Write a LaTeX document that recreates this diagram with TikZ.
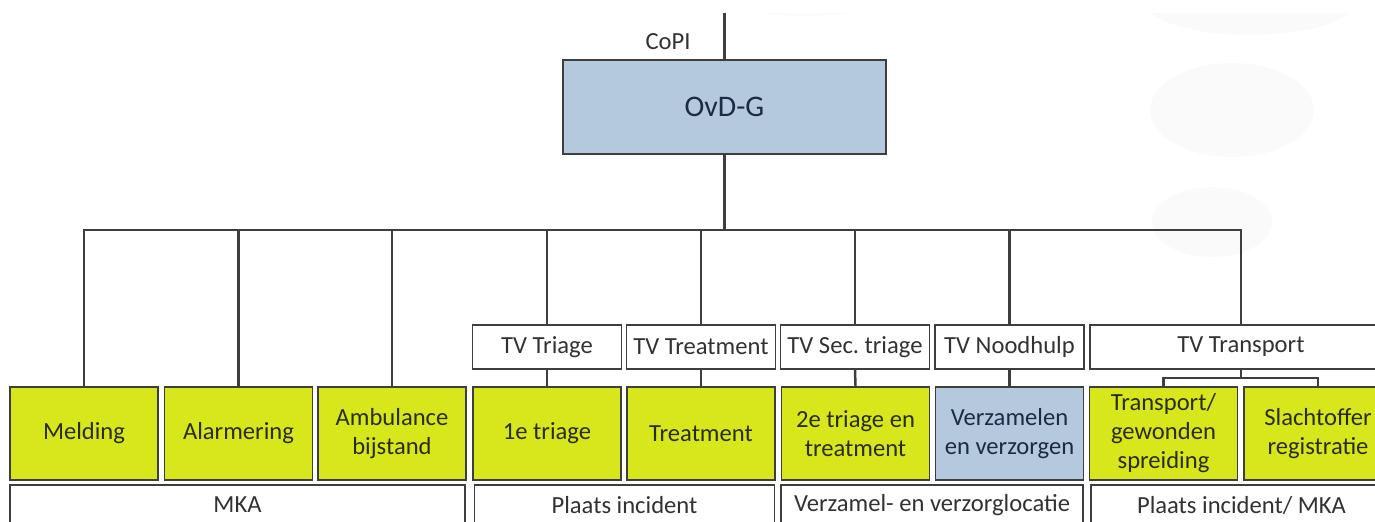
\documentclass[tikz,border=0pt]{standalone}
\usepackage{fontspec}
\setmainfont{Carlito}
\usetikzlibrary{positioning}

\definecolor{taskgreen}{RGB}{216,230,28}
\definecolor{ovdblue}{RGB}{180,201,222}
\definecolor{linegray}{RGB}{62,62,62}
\definecolor{txtgray}{RGB}{50,50,50}
\definecolor{tasktext}{RGB}{40,46,12}
\definecolor{bluetext}{RGB}{28,42,66}

\begin{document}
\frenchspacing
\begin{tikzpicture}[x=0.02cm, y=-0.02cm,
    every node/.style={font=\fontsize{14}{16.5}\selectfont, text=txtgray},
    lead/.style={draw=linegray, fill=white, line width=1pt, minimum width=2.98cm, minimum height=0.88cm, inner sep=1pt},
    task/.style={draw=linegray, fill=taskgreen, line width=1pt, minimum width=2.96cm, minimum height=1.86cm, align=center, inner sep=1pt, text=tasktext},
    place/.style={draw=linegray, fill=white, line width=1pt, minimum height=0.8cm, inner sep=1pt},
    link/.style={draw=linegray, line width=1.4pt}]
    \useasboundingbox (0,0) rectangle (1375,521);
    \clip (0,0) rectangle (1375,521);

    % faint blobs in the background
    \begin{scope}
        \clip (0,13) rectangle (1375,521);
        \fill[gray!4] (1250,2) ellipse [x radius=105, y radius=33];
        \fill[gray!4] (1232,110) ellipse [x radius=82, y radius=47];
        \fill[gray!4] (1212,222) ellipse [x radius=60, y radius=35];
        \fill[gray!3] (805,4) ellipse [x radius=70, y radius=12];
    \end{scope}

    % top
    \node (copi) at (668,42) {CoPI};
    \node[draw=linegray, fill=ovdblue, line width=1pt, minimum width=6.46cm, minimum height=1.88cm,
          font=\fontsize{17}{20}\selectfont, text=bluetext] (ovdg) at (724.5,107) {OvD-G};
    \coordinate (top) at (724.5,13);
    \coordinate (bus) at (724.5,230);

    % task leaders
    \node[lead] (tvtriage) at (547,347) {TV Triage};
    \node[lead] (tvtreat) at (701,347) {TV Treatment};
    \node[lead] (tvsec) at (855,347) {TV Sec. triage};
    \node[lead] (tvnood) at (1009.5,347) {TV Noodhulp};
    \node[lead, minimum width=6.04cm] (tvtransp) at (1241,347) {TV Transport};

    % tasks
    \node[task] (melding) at (84,433.5) {Melding};
    \node[task] (alarm) at (238.5,433.5) {Alarmering};
    \node[task] (ambu) at (392,433.5) {Ambulance\\bijstand};
    \node[task] (triage) at (547,433.5) {1e triage};
    \node[task] (treat) at (701,433.5) {Treatment};
    \node[task] (sectri) at (855.5,433.5) {2e triage en\\treatment};
    \node[task, fill=ovdblue, text=bluetext] (verz) at (1009.5,433.5) {Verzamelen\\en verzorgen};
    \node[task] (transp) at (1163.5,433.5) {Transport/\\gewonden\\spreiding};
    \node[task] (slacht) at (1318,433.5) {Slachtoffer\\registratie};

    % locations
    \node[place, minimum width=9.1cm] (mka) at (237.5,505) {MKA};
    \node[place, minimum width=6cm] (plaats) at (624.5,505) {Plaats incident};
    \node[place, minimum width=6.04cm] (verzloc) at (932,505) {Verzamel- en verzorglocatie};
    \node[place, minimum width=6.02cm] (plaatsmka) at (1241.5,505) {Plaats incident/ MKA};

    \draw[link] (top) -- (ovdg.north);
    \draw[link] (ovdg.south) -- (bus);
    \foreach \n in {melding, alarm, ambu, tvtriage, tvtreat, tvsec, tvnood, tvtransp}
        \draw[link] (bus) -| (\n.north);
    \draw[link] (tvtriage.south) -- (triage.north);
    \draw[link] (tvtreat.south) -- (treat.north);
    \draw[link] (tvsec.south) -- (sectri.north);
    \draw[link] (tvnood.south) -- (verz.north);
    \coordinate (split) at (1241,378);
    \draw[link] (tvtransp.south) -- (split);
    \draw[link] (split) -| (transp.north);
    \draw[link] (split) -| (slacht.north);
\end{tikzpicture}
\end{document}
